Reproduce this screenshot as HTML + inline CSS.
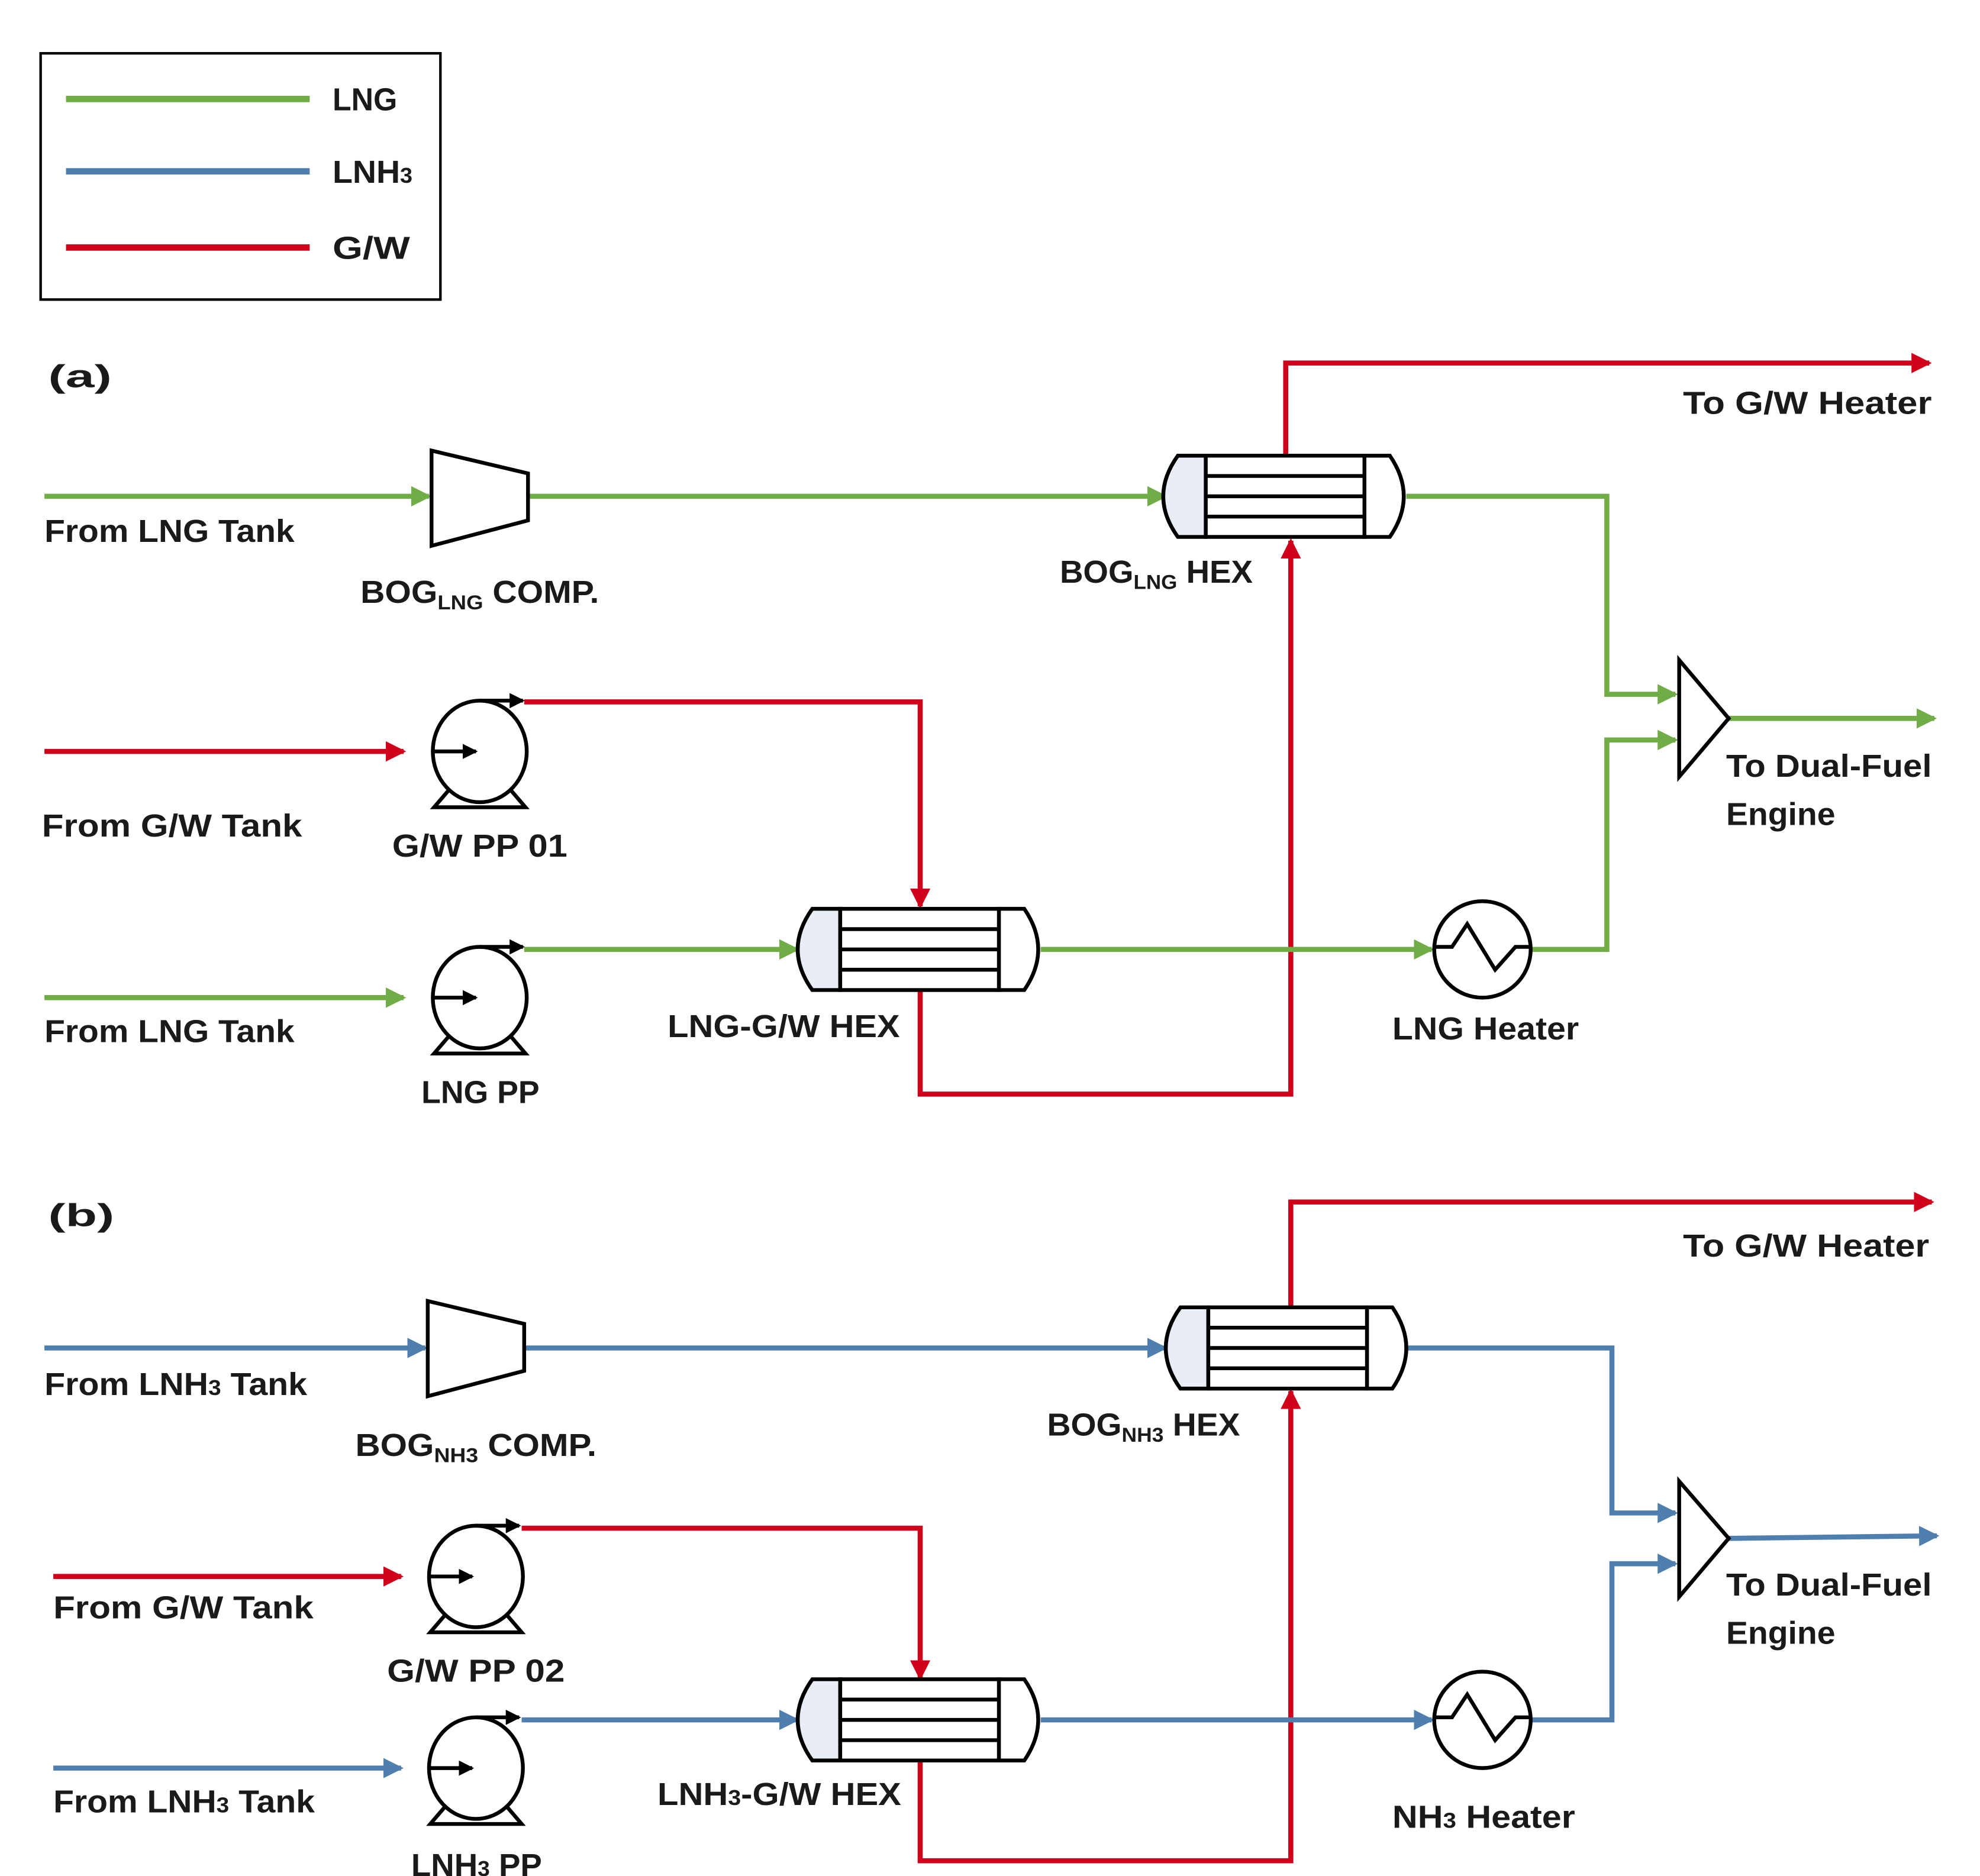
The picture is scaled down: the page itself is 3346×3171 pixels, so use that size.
<!DOCTYPE html>
<html><head><meta charset="utf-8"><style>
html,body{margin:0;padding:0;background:#fff;}
svg{display:block;}
text{font-family:"Liberation Sans",sans-serif;font-weight:bold;fill:#1a1a1a;font-size:25px;}
</style></head><body>
<svg width="3346" height="3171" viewBox="0 0 1560 1478" preserveAspectRatio="none" xmlns="http://www.w3.org/2000/svg">
<defs>
<marker id="ag" markerWidth="4" markerHeight="4" refX="3.5" refY="2" orient="auto" markerUnits="strokeWidth"><path d="M0,0 L4,2 L0,4 Z" fill="#70ad47"/></marker>
<marker id="ab" markerWidth="4" markerHeight="4" refX="3.5" refY="2" orient="auto" markerUnits="strokeWidth"><path d="M0,0 L4,2 L0,4 Z" fill="#4f7fae"/></marker>
<marker id="ar" markerWidth="4" markerHeight="4" refX="3.5" refY="2" orient="auto" markerUnits="strokeWidth"><path d="M0,0 L4,2 L0,4 Z" fill="#d0021b"/></marker>
<marker id="ak" markerWidth="4" markerHeight="4" refX="3.5" refY="2" orient="auto" markerUnits="strokeWidth"><path d="M0,0 L4,2 L0,4 Z" fill="#000"/></marker>
<g id="pump" fill="none" stroke="#000" stroke-width="3">
<path d="M-24,30 L-36,44 L36,44 L24,30" fill="#fff"/>
<ellipse cx="0" cy="0" rx="37" ry="40" fill="#fff"/>
<line x1="-38" y1="0" x2="-3" y2="0" marker-end="url(#ak)"/>
<path d="M0,-40 L34,-40" marker-end="url(#ak)"/>
</g>
<g id="hex" stroke="#000" stroke-width="3">
<path d="M-63,-32 L-85,-32 Q-108,0 -85,32 L-63,32 Z" fill="#e9edf5"/>
<path d="M62,-32 L82,-32 Q104,0 82,32 L62,32 Z" fill="#fff"/>
<rect x="-63" y="-32" width="125" height="64" fill="#fff"/>
<line x1="-63" y1="-16" x2="62" y2="-16"/><line x1="-63" y1="0" x2="62" y2="0"/><line x1="-63" y1="16" x2="62" y2="16"/>
</g>
<g id="heater" fill="none" stroke="#000" stroke-width="3">
<circle r="38" fill="#fff"/>
<path d="M-38,-2 L-24,-2 L-12,-20 L10,16 L26,-2 L38,-2"/>
</g>
</defs>

<!-- legend -->
<rect x="32" y="42" width="315" height="194" fill="none" stroke="#000" stroke-width="2"/>
<line x1="52" y1="78" x2="244" y2="78" stroke="#70ad47" stroke-width="5"/>
<line x1="52" y1="135" x2="244" y2="135" stroke="#4f7fae" stroke-width="5"/>
<line x1="52" y1="195" x2="244" y2="195" stroke="#d0021b" stroke-width="5"/>
<text x="262" y="87" textLength="51" lengthAdjust="spacingAndGlyphs">LNG</text>
<text x="262" y="144" textLength="63" lengthAdjust="spacingAndGlyphs">LNH<tspan font-size="17">3</tspan></text>
<text x="262" y="204" textLength="61" lengthAdjust="spacingAndGlyphs">G/W</text>

<!-- ===== (a) ===== -->
<text x="38" y="305" font-size="34" textLength="50" lengthAdjust="spacingAndGlyphs">(a)</text>
<g fill="none" stroke-width="4">
<line x1="35" y1="391" x2="338" y2="391" stroke="#70ad47" marker-end="url(#ag)"/>
<line x1="416" y1="391" x2="918" y2="391" stroke="#70ad47" marker-end="url(#ag)"/>
<polyline points="1108,391 1266,391 1266,547 1320,547" stroke="#70ad47" marker-end="url(#ag)"/>
<polyline points="1206,748 1266,748 1266,583 1320,583" stroke="#70ad47" marker-end="url(#ag)"/>
<line x1="1362" y1="566" x2="1524" y2="566" stroke="#70ad47" marker-end="url(#ag)"/>
<polyline points="1013,358 1013,286 1520,286" stroke="#d0021b" marker-end="url(#ar)"/>
<polyline points="725,780 725,862 1017,862 1017,426" stroke="#d0021b" marker-end="url(#ar)"/>
<line x1="35" y1="592" x2="318" y2="592" stroke="#d0021b" marker-end="url(#ar)"/>
<polyline points="413,553 725,553 725,714" stroke="#d0021b" marker-end="url(#ar)"/>
<line x1="35" y1="786" x2="318" y2="786" stroke="#70ad47" marker-end="url(#ag)"/>
<line x1="413" y1="748" x2="628" y2="748" stroke="#70ad47" marker-end="url(#ag)"/>
<line x1="820" y1="748" x2="1128" y2="748" stroke="#70ad47" marker-end="url(#ag)"/>
</g>
<polygon points="340,355 416,373 416,410 340,430" fill="#fff" stroke="#000" stroke-width="3"/>
<use href="#hex" x="1013" y="391"/>
<use href="#hex" x="725" y="748"/>
<use href="#pump" x="378" y="592"/>
<use href="#pump" x="378" y="786"/>
<use href="#heater" x="1168" y="748"/>
<polygon points="1323,520 1323,612 1362,566" fill="#fff" stroke="#000" stroke-width="3"/>
<text x="35" y="427" textLength="197" lengthAdjust="spacingAndGlyphs">From LNG Tank</text>
<text x="284" y="475" textLength="188" lengthAdjust="spacingAndGlyphs">BOG<tspan font-size="16" dy="5">LNG</tspan><tspan dy="-5"> COMP.</tspan></text>
<text x="835" y="459" textLength="152" lengthAdjust="spacingAndGlyphs">BOG<tspan font-size="16" dy="5">LNG</tspan><tspan dy="-5"> HEX</tspan></text>
<text x="1326" y="326" textLength="196" lengthAdjust="spacingAndGlyphs">To G/W Heater</text>
<text x="33" y="659" textLength="205" lengthAdjust="spacingAndGlyphs">From G/W Tank</text>
<text x="309" y="675" textLength="138" lengthAdjust="spacingAndGlyphs">G/W PP 01</text>
<text x="35" y="821" textLength="197" lengthAdjust="spacingAndGlyphs">From LNG Tank</text>
<text x="526" y="817" textLength="183" lengthAdjust="spacingAndGlyphs">LNG-G/W HEX</text>
<text x="1097" y="819" textLength="147" lengthAdjust="spacingAndGlyphs">LNG Heater</text>
<text x="332" y="869" textLength="93" lengthAdjust="spacingAndGlyphs">LNG PP</text>
<text x="1360" y="612" textLength="162" lengthAdjust="spacingAndGlyphs">To Dual-Fuel</text>
<text x="1360" y="650" textLength="86" lengthAdjust="spacingAndGlyphs">Engine</text>

<!-- ===== (b) ===== -->
<text x="38" y="966" font-size="34" textLength="52" lengthAdjust="spacingAndGlyphs">(b)</text>
<g fill="none" stroke-width="4">
<line x1="35" y1="1062" x2="335" y2="1062" stroke="#4f7fae" marker-end="url(#ab)"/>
<line x1="413" y1="1062" x2="918" y2="1062" stroke="#4f7fae" marker-end="url(#ab)"/>
<polyline points="1108,1062 1270,1062 1270,1192 1320,1192" stroke="#4f7fae" marker-end="url(#ab)"/>
<polyline points="1206,1355 1270,1355 1270,1232 1320,1232" stroke="#4f7fae" marker-end="url(#ab)"/>
<line x1="1362" y1="1212" x2="1526" y2="1210" stroke="#4f7fae" marker-end="url(#ab)"/>
<polyline points="1017,1030 1017,947 1522,947" stroke="#d0021b" marker-end="url(#ar)"/>
<polyline points="725,1387 725,1466 1017,1466 1017,1096" stroke="#d0021b" marker-end="url(#ar)"/>
<line x1="42" y1="1242" x2="316" y2="1242" stroke="#d0021b" marker-end="url(#ar)"/>
<polyline points="411,1204 725,1204 725,1322" stroke="#d0021b" marker-end="url(#ar)"/>
<line x1="42" y1="1393" x2="316" y2="1393" stroke="#4f7fae" marker-end="url(#ab)"/>
<line x1="411" y1="1355" x2="628" y2="1355" stroke="#4f7fae" marker-end="url(#ab)"/>
<line x1="820" y1="1355" x2="1128" y2="1355" stroke="#4f7fae" marker-end="url(#ab)"/>
</g>
<polygon points="337,1025 413,1043 413,1080 337,1100" fill="#fff" stroke="#000" stroke-width="3"/>
<use href="#hex" x="1015" y="1062"/>
<use href="#hex" x="725" y="1355"/>
<use href="#pump" x="375" y="1242"/>
<use href="#pump" x="375" y="1393"/>
<use href="#heater" x="1168" y="1355"/>
<polygon points="1323,1167 1323,1258 1362,1212" fill="#fff" stroke="#000" stroke-width="3"/>
<text x="35" y="1099" textLength="207" lengthAdjust="spacingAndGlyphs">From LNH<tspan font-size="17">3</tspan> Tank</text>
<text x="280" y="1147" textLength="190" lengthAdjust="spacingAndGlyphs">BOG<tspan font-size="16" dy="5">NH3</tspan><tspan dy="-5"> COMP.</tspan></text>
<text x="825" y="1131" textLength="152" lengthAdjust="spacingAndGlyphs">BOG<tspan font-size="16" dy="5">NH3</tspan><tspan dy="-5"> HEX</tspan></text>
<text x="1326" y="990" textLength="194" lengthAdjust="spacingAndGlyphs">To G/W Heater</text>
<text x="42" y="1275" textLength="205" lengthAdjust="spacingAndGlyphs">From G/W Tank</text>
<text x="305" y="1325" textLength="140" lengthAdjust="spacingAndGlyphs">G/W PP 02</text>
<text x="42" y="1428" textLength="206" lengthAdjust="spacingAndGlyphs">From LNH<tspan font-size="17">3</tspan> Tank</text>
<text x="518" y="1422" textLength="192" lengthAdjust="spacingAndGlyphs">LNH<tspan font-size="17">3</tspan>-G/W HEX</text>
<text x="1097" y="1440" textLength="144" lengthAdjust="spacingAndGlyphs">NH<tspan font-size="17">3</tspan> Heater</text>
<text x="324" y="1478" textLength="103" lengthAdjust="spacingAndGlyphs">LNH<tspan font-size="17">3</tspan> PP</text>
<text x="1360" y="1257" textLength="162" lengthAdjust="spacingAndGlyphs">To Dual-Fuel</text>
<text x="1360" y="1295" textLength="86" lengthAdjust="spacingAndGlyphs">Engine</text>
</svg>
</body></html>
